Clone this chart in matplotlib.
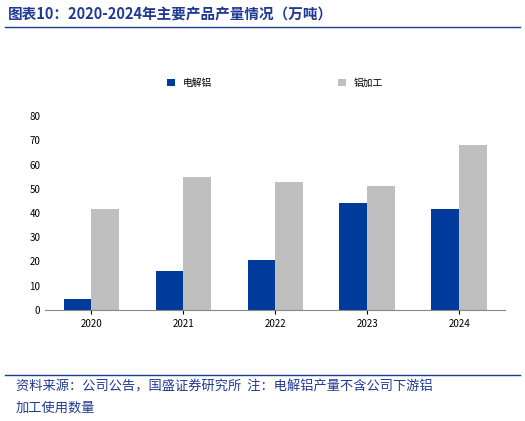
import matplotlib
matplotlib.use("Agg")
import matplotlib.pyplot as plt
import numpy as np

plt.rcParams['font.family'] = ['Noto Sans CJK SC', 'DejaVu Sans']

years = ["2020", "2021", "2022", "2023", "2024"]
aluminum = [4.5, 16, 20.5, 44, 41.5]
processing = [41.5, 55, 53, 51, 68]

fig = plt.figure(figsize=(5.25, 4.21), dpi=100)
ax = fig.add_axes([0.086, 0.264, 0.876, 0.46])
x = np.arange(len(years))
w = 0.3
ax.bar(x - 0.15, aluminum, w, color='#003a9b', label='电解铝')
ax.bar(x + 0.15, processing, w, color='#bfbfbf', label='铝加工')
ax.set_ylim(0, 80)
ax.set_yticks(range(0, 81, 10))
ax.set_xlim(-0.5, 4.5)
ax.set_xticks(x)
ax.set_xticklabels(years)
ax.tick_params(labelsize=7, length=0)
ax.tick_params(axis='x', length=3, direction='out')
for s in ['top', 'right', 'left']:
    ax.spines[s].set_visible(False)
ax.spines['bottom'].set_color('#888888')
ax.legend(loc='lower center', bbox_to_anchor=(0.5, 1.1), ncol=2, frameon=False,
          fontsize=7, handlelength=0.8, handleheight=0.8, columnspacing=13)

fig.text(0.015, 0.965, "图表10：2020-2024年主要产品产量情况（万吨）", fontsize=10.5,
         color='#1f3a93', style='italic', weight='bold', va='center')
fig.add_artist(plt.Line2D([0.01, 0.99], [0.935, 0.935], color='#1f3a93', lw=1))
fig.add_artist(plt.Line2D([0.01, 0.99], [0.108, 0.108], color='#1f3a93', lw=0.8)) if False else None
fig.add_artist(plt.Line2D([0.01, 0.99], [0.11, 0.11], color='#1f3a93', lw=1))
fig.text(0.03, 0.082, "资料来源：公司公告，国盛证券研究所  注：电解铝产量不含公司下游铝", fontsize=9.5,
         color='#1f3a93', style='italic', va='center')
fig.text(0.03, 0.03, "加工使用数量", fontsize=9.5, color='#1f3a93', style='italic', va='center')
fig.savefig("out.png", dpi=100)
